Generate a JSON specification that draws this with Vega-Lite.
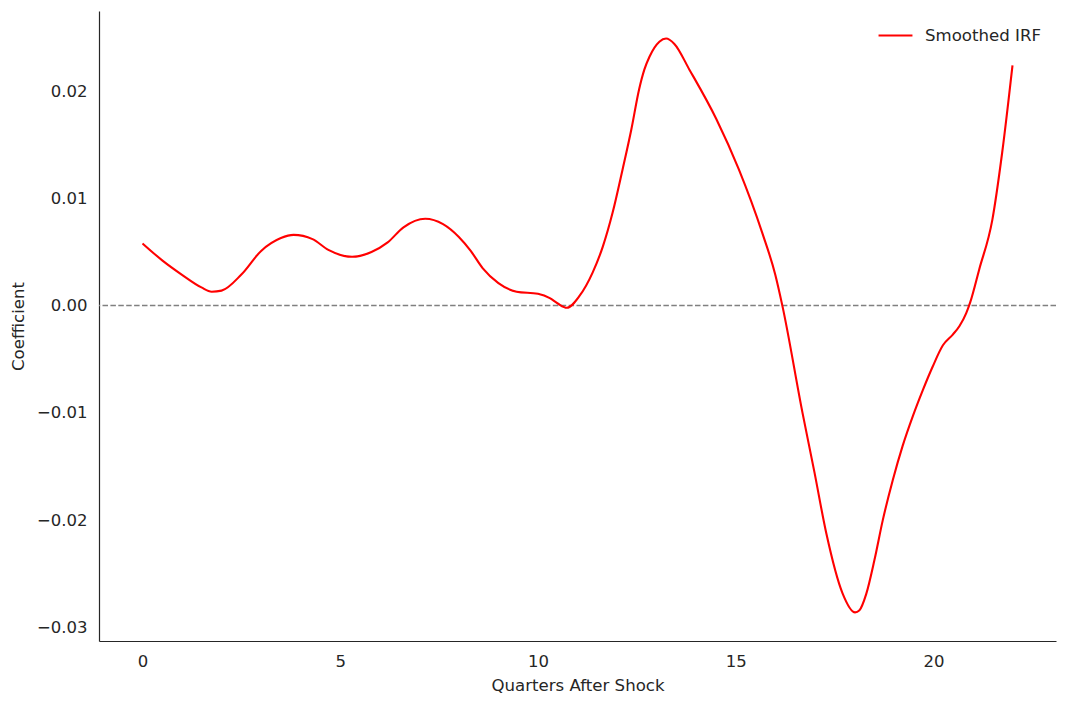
{
  "$schema": "https://vega.github.io/schema/vega-lite/v6.json",
  "width": 957,
  "height": 630,
  "autosize": {"type": "none"},
  "padding": {"left": 99, "top": 11, "right": 11, "bottom": 66},
  "background": "white",
  "config": {
    "view": {"stroke": null},
    "font": "DejaVu Sans",
    "axis": {
      "grid": false,
      "ticks": false,
      "domainColor": "#262626",
      "domainWidth": 1.2,
      "labelColor": "#262626",
      "titleColor": "#262626",
      "labelFont": "DejaVu Sans",
      "titleFont": "DejaVu Sans",
      "labelFontSize": 16.5,
      "titleFontSize": 16.6,
      "titleFontWeight": "normal"
    }
  },
  "datasets": {
    "irf": [
      {"t": 0.0, "v": 0.0058},
      {"t": 0.506, "v": 0.0042},
      {"t": 0.99, "v": 0.0029},
      {"t": 1.49, "v": 0.0017},
      {"t": 1.75, "v": 0.0013},
      {"t": 2.0, "v": 0.0014},
      {"t": 2.5, "v": 0.0029},
      {"t": 3.0, "v": 0.0051},
      {"t": 3.5, "v": 0.0063},
      {"t": 3.82, "v": 0.0066},
      {"t": 4.3, "v": 0.0062},
      {"t": 4.7, "v": 0.0052},
      {"t": 5.3, "v": 0.00455},
      {"t": 5.79, "v": 0.005},
      {"t": 6.2, "v": 0.0059},
      {"t": 6.6, "v": 0.0073},
      {"t": 7.15, "v": 0.0081},
      {"t": 7.6, "v": 0.0076},
      {"t": 8.0, "v": 0.0064},
      {"t": 8.3, "v": 0.0051},
      {"t": 8.6, "v": 0.0035},
      {"t": 9.0, "v": 0.0021},
      {"t": 9.46, "v": 0.0013},
      {"t": 10.0, "v": 0.0011},
      {"t": 10.3, "v": 0.0007},
      {"t": 10.5, "v": 0.0002},
      {"t": 10.73, "v": -0.0002},
      {"t": 11.05, "v": 0.0009},
      {"t": 11.385, "v": 0.0031},
      {"t": 11.64, "v": 0.0055},
      {"t": 11.89, "v": 0.0087},
      {"t": 12.14, "v": 0.0127},
      {"t": 12.36, "v": 0.0164},
      {"t": 12.56, "v": 0.0202},
      {"t": 12.69, "v": 0.0220},
      {"t": 12.82, "v": 0.0232},
      {"t": 13.07, "v": 0.0246},
      {"t": 13.24, "v": 0.0249},
      {"t": 13.45, "v": 0.0244},
      {"t": 13.83, "v": 0.0220},
      {"t": 14.51, "v": 0.0174},
      {"t": 15.08, "v": 0.0127},
      {"t": 15.67, "v": 0.0068},
      {"t": 16.0, "v": 0.0029},
      {"t": 16.18, "v": 0.0},
      {"t": 16.69, "v": -0.01},
      {"t": 16.99, "v": -0.0155},
      {"t": 17.29, "v": -0.0212},
      {"t": 17.7, "v": -0.0268},
      {"t": 18.02, "v": -0.0286},
      {"t": 18.13, "v": -0.0284},
      {"t": 18.3, "v": -0.0269},
      {"t": 18.51, "v": -0.0237},
      {"t": 18.72, "v": -0.02},
      {"t": 18.97, "v": -0.0163},
      {"t": 19.22, "v": -0.0131},
      {"t": 19.48, "v": -0.0103},
      {"t": 19.73, "v": -0.0079},
      {"t": 19.98, "v": -0.0057},
      {"t": 20.24, "v": -0.0037},
      {"t": 20.49, "v": -0.0027},
      {"t": 20.66, "v": -0.0019},
      {"t": 20.83, "v": -0.0007},
      {"t": 20.93, "v": 0.0003},
      {"t": 21.16, "v": 0.0034},
      {"t": 21.49, "v": 0.008},
      {"t": 21.74, "v": 0.0143},
      {"t": 22.0, "v": 0.0224}
    ],
    "zero": [{"y": 0}]
  },
  "layer": [
    {
      "data": {"name": "zero"},
      "mark": {"type": "rule", "color": "#808080", "strokeWidth": 1.5, "strokeDash": [5.5, 2.4]},
      "encoding": {"y": {"field": "y", "type": "quantitative"}}
    },
    {
      "data": {"name": "irf"},
      "mark": {"type": "line", "interpolate": "monotone", "strokeWidth": 2.1, "clip": true},
      "encoding": {
        "x": {
          "field": "t",
          "type": "quantitative",
          "scale": {"domain": [-1.1, 23.1], "nice": false, "zero": false},
          "axis": {"values": [0, 5, 10, 15, 20], "format": "d", "title": "Quarters After Shock", "labelPadding": 12, "titlePadding": 8}
        },
        "y": {
          "field": "v",
          "type": "quantitative",
          "scale": {"domain": [-0.03127, 0.02747], "nice": false, "zero": false},
          "axis": {"values": [-0.03, -0.02, -0.01, 0, 0.01, 0.02], "format": ".2f", "title": "Coefficient", "labelPadding": 12, "titlePadding": 10}
        },
        "color": {
          "datum": "Smoothed IRF",
          "type": "nominal",
          "scale": {"range": ["#ff0000"]},
          "legend": {
            "title": null,
            "orient": "none",
            "legendX": 778,
            "legendY": 6,
            "symbolType": "stroke",
            "symbolSize": 1150,
            "symbolStrokeWidth": 2.1,
            "labelFontSize": 16.6,
            "labelColor": "#262626",
            "labelFont": "DejaVu Sans",
            "labelOffset": 11
          }
        }
      }
    }
  ]
}
